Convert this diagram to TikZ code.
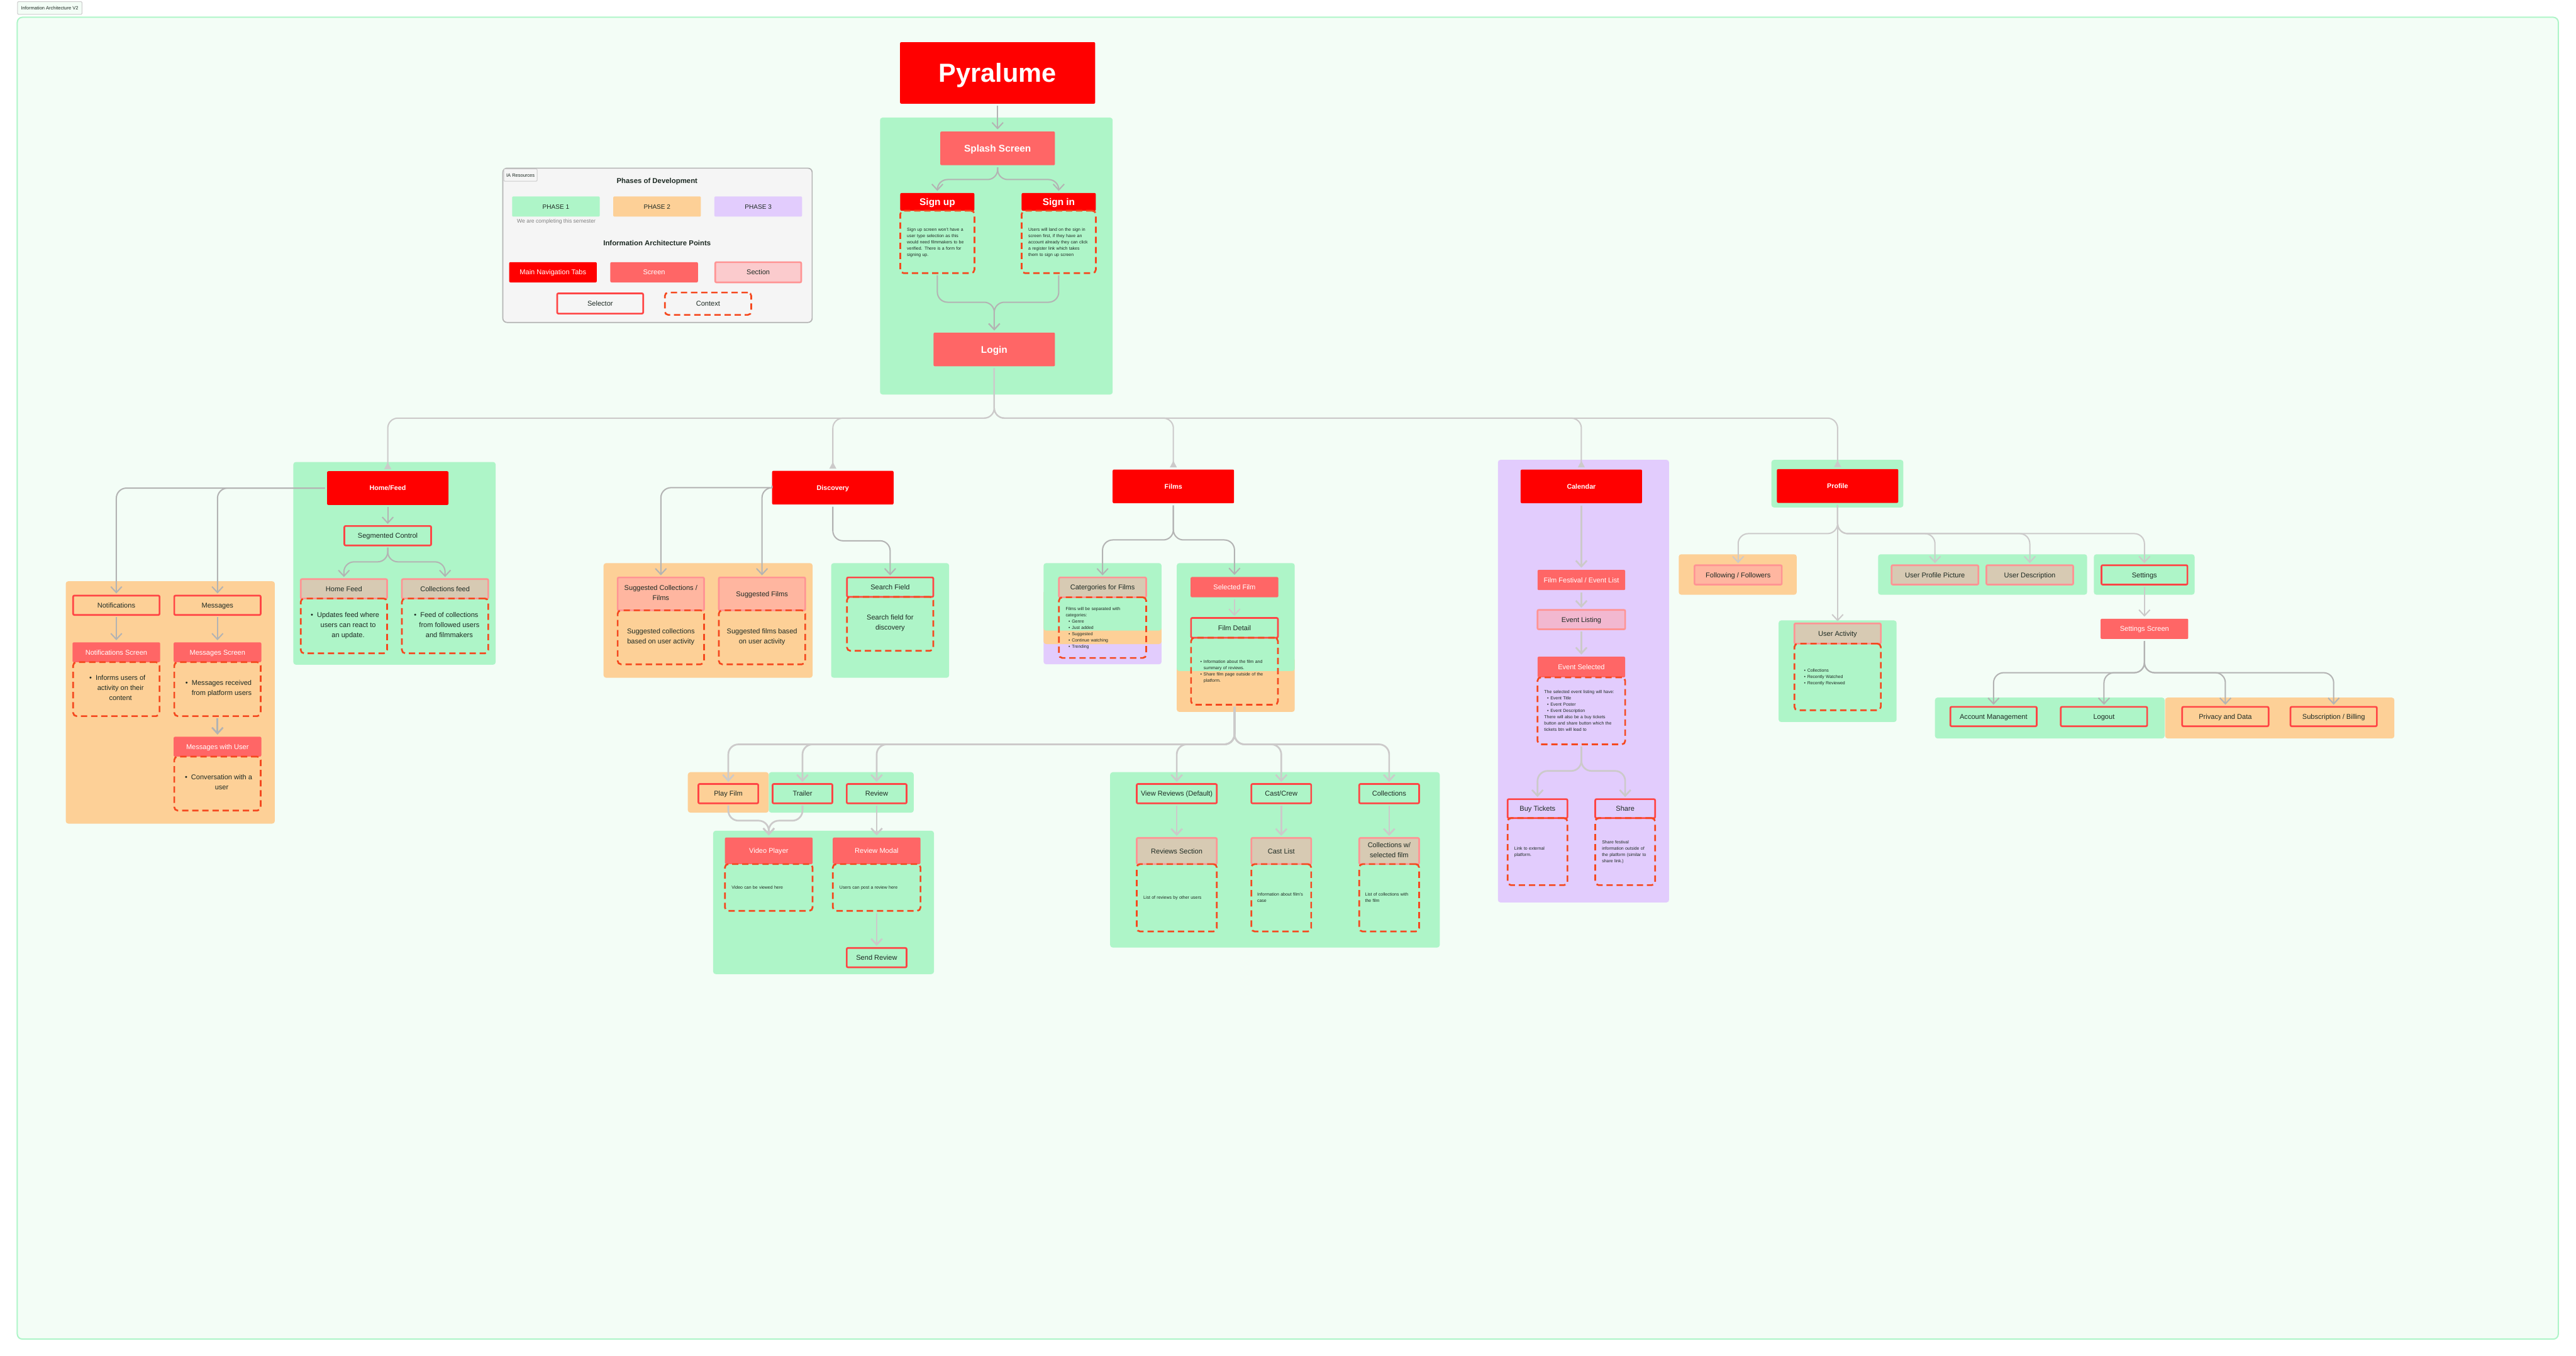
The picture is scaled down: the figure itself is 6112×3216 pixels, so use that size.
\documentclass[tikz,border=0pt]{standalone}
\usepackage{fontspec}
\setmainfont{Liberation Sans}
\usetikzlibrary{positioning, arrows.meta}

\definecolor{FrameFill}{HTML}{F3FDF6}
\definecolor{PhaseGreen}{HTML}{AEF5C8}
\definecolor{PhaseOrange}{HTML}{FDD097}
\definecolor{PhasePurple}{HTML}{E2CCFD}
\definecolor{TabRed}{HTML}{FF0000}
\definecolor{ScreenRed}{HTML}{FF6666}
\definecolor{SectionLine}{HTML}{FF9494}
\definecolor{SectionPink}{HTML}{FBCBCD}
\definecolor{SectionTan}{HTML}{D7CAB3}
\definecolor{SectionPeach}{HTML}{FFB6A0}
\definecolor{SectionRose}{HTML}{F2B8D0}
\definecolor{SelectorLine}{HTML}{FF4545}
\definecolor{ContextLine}{HTML}{F5481E}
\definecolor{ConnDark}{HTML}{B3B3B3}
\definecolor{ConnLight}{HTML}{CCCACA}
\definecolor{InkDark}{HTML}{1E2B24}

\newcommand{\BigDot}{\hspace*{20pt}\llap{\textbullet\hspace{9pt}}}
\newcommand{\BigGap}{\hspace*{20pt}}
\newcommand{\SmallDot}{\hspace*{7pt}\textbullet\hspace{4pt}}
\newcommand{\SmallGap}{\hspace*{15pt}}
\newcommand{\CapStrut}{\rule[\dimexpr .36em-.5\baselineskip\relax]{0pt}{\baselineskip}}

\tikzset{
	Dim/.style 2 args={minimum width=#1pt, minimum height=#2pt},
	Box/.style={rectangle, inner sep=0pt, outer sep=0pt, align=center, text=InkDark, font=\fontsize{16.5}{24}\selectfont, execute at begin node=\CapStrut, execute at end node=\CapStrut},
	Tab/.style={Box, fill=TabRed, rounded corners=3pt, text=white, font=\fontsize{16}{24}\bfseries\selectfont},
	TabLarge/.style={Tab, font=\fontsize{23}{28}\bfseries\selectfont},
	Screen/.style={Box, fill=ScreenRed, rounded corners=3pt, text=white},
	ScreenLarge/.style={Screen, font=\fontsize{23}{28}\bfseries\selectfont},
	Section/.style={Box, draw=SectionLine, line width=4pt, rounded corners=3pt, fill=SectionPink},
	Selector/.style={Box, draw=SelectorLine, line width=4pt, rounded corners=3pt},
	Context/.style={Box, draw=ContextLine, line width=4pt, rounded corners=8pt, dash pattern=on 15pt off 9pt},
	SmallNote/.style={Context, align=left, font=\fontsize{10.4}{15}\selectfont},
	Phase/.style={Box, rounded corners=3pt, font=\fontsize{15}{20}\selectfont},
	Heading/.style={Box, font=\fontsize{17}{20}\bfseries\selectfont},
	Label/.style={Box, fill=#1, draw=black!20, line width=1.5pt, rounded corners=2pt, font=\fontsize{11.2}{14}\selectfont},
	Panel/.style={fill=#1, rounded corners=6pt},
	Conn/.style={draw=ConnDark, line width=3pt, rounded corners=24pt, shorten <=5pt, shorten >=5pt, -{Straight Barb[length=14pt, width=26pt]}},
	Light/.style={Conn, draw=ConnLight},
	Heavy/.style={Light, line width=4pt},
	ToTab/.style={Light, -{Triangle[reversed, length=16pt, width=16pt]}},
}

\begin{document}
\begin{tikzpicture}	[x=1pt, y=-1pt]

	\fill[white] (0,0) rectangle (6112,3216);
	\useasboundingbox (0,0) rectangle (6112,3216);
	\draw[fill=FrameFill, draw=PhaseGreen, line width=3pt, rounded corners=12pt] (41,41) rectangle (6070,3177);
	\node[Label=FrameFill, Dim={153}{30}] (DiagramTitle) at (118,19) {Information Architecture V2};


	\draw[fill=black!4, draw=ConnDark, line width=2.5pt, rounded corners=10pt] (1193,399) rectangle (1927,765);
	\node[Label=black!4, Dim={79}{29}] (ResourcesTitle) at (1235,415.5) {IA Resources};
	\node[Heading] (PhaseTitle) at (1559,429) {Phases of Development};
	\node[Phase, fill=PhaseGreen, Dim={208}{48}] (PhaseOne) at (1319,490) {PHASE 1};
	\node[Phase, fill=PhaseOrange, Dim={208}{48}] (PhaseTwo) at (1559,490) {PHASE 2};
	\node[Phase, fill=PhasePurple, Dim={208}{48}] (PhaseThree) at (1799,490) {PHASE 3};
	\node[Box, text=black!50, font=\fontsize{12.8}{16}\selectfont] (PhaseNote) at (1320,525) {We are completing this semester};
	\node[Heading] (PointsTitle) at (1559,577) {Information Architecture Points};
	\node[Tab, font=\fontsize{16.5}{24}\selectfont, Dim={208}{48}] (LegendTab) at (1312,646) {Main Navigation Tabs};
	\node[Screen, Dim={208}{48}] (LegendScreen) at (1552,646) {Screen};
	\node[Section, Dim={204}{48}] (LegendSection) at (1799,646) {Section};
	\node[Selector, Dim={204}{48}] (LegendSelector) at (1424,720) {Selector};
	\node[Context, Dim={205}{53}] (LegendContext) at (1680,720.5) {Context};


	\fill[Panel=PhaseGreen] (2088,279) rectangle (2640,936);
	\fill[Panel=PhaseOrange] (156,1379) rectangle (652,1954);
	\fill[Panel=PhaseGreen] (696,1096) rectangle (1176,1577);
	\fill[Panel=PhaseOrange] (1432,1336) rectangle (1928,1608);
	\fill[Panel=PhaseGreen] (1972,1336) rectangle (2252,1608);
	\fill[Panel=PhasePurple] (2476,1400) rectangle (2756,1576);
	\fill[Panel=PhaseOrange] (2476,1400) rectangle (2756,1528);
	\fill[Panel=PhaseGreen] (2476,1336) rectangle (2756,1496);
	\fill[Panel=PhaseOrange] (2792,1560) rectangle (3072,1689);
	\fill[Panel=PhaseGreen] (2792,1336) rectangle (3072,1592);
	\fill[Panel=PhaseOrange] (1632,1832) rectangle (1824,1928);
	\fill[Panel=PhaseGreen] (1824,1832) rectangle (2168,1928);
	\fill[Panel=PhaseGreen] (1692,1971) rectangle (2216,2311);
	\fill[Panel=PhaseGreen] (2634,1832) rectangle (3416,2248);
	\fill[Panel=PhasePurple] (3554,1091) rectangle (3960,2141);
	\fill[Panel=PhaseGreen] (4203,1091) rectangle (4516,1204);
	\fill[Panel=PhaseOrange] (3983,1315) rectangle (4263,1411);
	\fill[Panel=PhaseGreen] (4456,1315) rectangle (4952,1411);
	\fill[Panel=PhaseGreen] (4968,1315) rectangle (5207,1411);
	\fill[Panel=PhaseGreen] (4220,1472) rectangle (4500,1713);
	\fill[Panel=PhaseGreen] (4591,1655) rectangle (5136,1752);
	\fill[Panel=PhaseOrange] (5137,1655) rectangle (5681,1752);


	\node[Tab, font=\fontsize{62}{70}\bfseries\selectfont, Dim={463}{146}] (Pyralume) at (2367,173) {Pyralume};
	\node[ScreenLarge, Dim={272}{80}] (Splash) at (2367,352) {Splash Screen};
	\node[TabLarge, Dim={176}{42}] (SignUp) at (2224,479) {Sign up};
	\node[SmallNote, Dim={176}{148}, text width=144pt] (SignUpNote) [below=0pt of SignUp] {Sign up screen won't have a\\user type selection as this\\would need filmmakers to be\\verified. There is a form for\\signing up.};
	\node[TabLarge, Dim={176}{42}] (SignIn) at (2512,479) {Sign in};
	\node[SmallNote, Dim={176}{148}, text width=144pt] (SignInNote) [below=0pt of SignIn] {Users will land on the sign in\\screen first, if they have an\\account already they can click\\a register link which takes\\them to sign up screen};
	\node[ScreenLarge, Dim={288}{80}] (Login) at (2359,829) {Login};


	\node[Tab, Dim={288}{80}] (Home) at (920,1158) {Home/Feed};
	\node[Selector, Dim={206}{46}] (Segmented) at (920,1271) {Segmented Control};
	\node[Section, fill=SectionTan, Dim={205}{46}] (HomeFeed) at (816,1397) {Home Feed};
	\node[Context, Dim={205}{130}] (HomeFeedNote) [below=0pt of HomeFeed] {\BigDot Updates feed where\\\BigGap users can react to\\\BigGap an update.};
	\node[Section, fill=SectionTan, Dim={205}{46}] (CollectionsFeed) at (1056,1397) {Collections feed};
	\node[Context, Dim={205}{130}] (CollectionsFeedNote) [below=0pt of CollectionsFeed] {\BigDot Feed of collections\\\BigGap from followed users\\\BigGap and filmmakers};

	\node[Selector, Dim={205}{46}] (Notifications) at (276,1436) {Notifications};
	\node[Screen, Dim={208}{47}] (NotificationsScreen) at (276,1547.5) {Notifications Screen};
	\node[Context, Dim={205}{128}] (NotificationsNote) [below=0pt of NotificationsScreen] {\BigDot Informs users of\\\BigGap activity on their\\\BigGap content};
	\node[Selector, Dim={205}{46}] (Messages) at (516,1436) {Messages};
	\node[Screen, Dim={208}{47}] (MessagesScreen) at (516,1547.5) {Messages Screen};
	\node[Context, Dim={205}{128}] (MessagesNote) [below=0pt of MessagesScreen] {\BigDot Messages received\\\BigGap from platform users};
	\node[Screen, Dim={208}{47}] (MessagesUser) at (516,1771.5) {Messages with User};
	\node[Context, Dim={205}{128}] (MessagesUserNote) [below=0pt of MessagesUser] {\BigDot Conversation with a\\\BigGap user};


	\node[Tab, Dim={288}{80}] (Discovery) at (1976,1157) {Discovery};
	\node[Section, fill=SectionPeach, Dim={205}{78}] (SuggestedSets) at (1568,1409) {Suggested Collections /\\Films};
	\node[Context, Dim={205}{128}] (SuggestedSetsNote) [below=0pt of SuggestedSets] {Suggested collections\\based on user activity};
	\node[Section, fill=SectionPeach, Dim={205}{78}] (SuggestedFilms) at (1808,1409) {Suggested Films};
	\node[Context, Dim={205}{128}] (SuggestedFilmsNote) [below=0pt of SuggestedFilms] {Suggested films based\\on user activity};
	\node[Selector, Dim={205}{46}] (SearchField) at (2112,1393) {Search Field};
	\node[Context, Dim={205}{128}] (SearchFieldNote) [below=0pt of SearchField] {Search field for\\discovery};


	\node[Tab, Dim={288}{80}] (Films) at (2784,1154) {Films};
	\node[Section, fill=SectionTan, Dim={207}{47}] (Categories) at (2616,1393.5) {Catergories for Films};
	\node[SmallNote, Dim={207}{144}, text width=175pt] (CategoriesNote) [below=0pt of Categories] {Films will be separated with\\categories:\\\SmallDot Genre\\\SmallDot Just added\\\SmallDot Suggested\\\SmallDot Continue watching\\\SmallDot Trending};
	\node[Screen, Dim={208}{48}] (SelectedFilm) at (2929,1393) {Selected Film};
	\node[Selector, Dim={206}{47}] (FilmDetail) at (2929,1489.5) {Film Detail};
	\node[SmallNote, Dim={206}{159}, text width=176pt] (FilmDetailNote) [below=0pt of FilmDetail] {\SmallDot Information about the film and\\\SmallGap summary of reviews.\\\SmallDot Share film page outside of the\\\SmallGap platform.};

	\node[Selector, Dim={142}{46}] (PlayFilm) at (1728,1883) {Play Film};
	\node[Selector, Dim={142}{46}] (Trailer) at (1904,1883) {Trailer};
	\node[Selector, Dim={142}{46}] (Review) at (2080,1883) {Review};
	\node[Screen, Dim={208}{63}] (VideoPlayer) at (1824,2018.5) {Video Player};
	\node[SmallNote, Dim={208}{111}, text width=176pt] (VideoPlayerNote) [below=0pt of VideoPlayer] {Video can be viewed here};
	\node[Screen, Dim={208}{63}] (ReviewModal) at (2080,2018.5) {Review Modal};
	\node[SmallNote, Dim={208}{111}, text width=176pt] (ReviewModalNote) [below=0pt of ReviewModal] {Users can post a review here};
	\node[Selector, Dim={142}{46}] (SendReview) at (2080,2272) {Send Review};

	\node[Selector, Dim={190}{46}] (ViewReviews) at (2792,1883) {View Reviews (Default)};
	\node[Selector, Dim={142}{46}] (CastCrew) at (3040,1883) {Cast/Crew};
	\node[Selector, Dim={142}{46}] (CollectionsTab) at (3296,1883) {Collections};
	\node[Section, fill=SectionTan, Dim={190}{62}] (ReviewsSection) at (2792,2019) {Reviews Section};
	\node[SmallNote, Dim={190}{160}, text width=158pt] (ReviewsNote) [below=0pt of ReviewsSection] {List of reviews by other users};
	\node[Section, fill=SectionTan, Dim={142}{62}] (CastList) at (3040,2019) {Cast List};
	\node[SmallNote, Dim={142}{160}, text width=114pt] (CastNote) [below=0pt of CastList] {Information about film's\\case};
	\node[Section, fill=SectionTan, Dim={142}{62}] (CollectionsFilm) at (3296,2019) {Collections w/\\selected film};
	\node[SmallNote, Dim={142}{160}, text width=114pt] (CollectionsNote) [below=0pt of CollectionsFilm] {List of collections with\\the film};


	\node[Tab, Dim={288}{80}] (Calendar) at (3752,1154) {Calendar};
	\node[Screen, Dim={208}{48}] (FestivalList) at (3752,1376) {Film Festival / Event List};
	\node[Section, fill=SectionRose, Dim={208}{46}] (EventListing) at (3752,1470) {Event Listing};
	\node[Screen, Dim={208}{49}] (EventSelected) at (3752,1582.5) {Event Selected};
	\node[SmallNote, Dim={208}{159}, text width=176pt] (EventNote) [below=0pt of EventSelected] {The selected event listing will have:\\\SmallDot Event Title\\\SmallDot Event Poster\\\SmallDot Event Description\\There will also be a buy tickets\\button and share button which the\\tickets btn will lead to};
	\node[Selector, Dim={142}{45}] (BuyTickets) at (3648,1918.5) {Buy Tickets};
	\node[SmallNote, Dim={142}{159}, text width=110pt] (BuyTicketsNote) [below=0pt of BuyTickets] {Link to external\\platform.};
	\node[Selector, Dim={142}{45}] (Share) at (3856,1918.5) {Share};
	\node[SmallNote, Dim={142}{159}, text width=110pt] (ShareNote) [below=0pt of Share] {Share festival\\information outside of\\the platform (similar to\\share link.)};


	\node[Tab, Dim={288}{80}] (Profile) at (4360,1153) {Profile};
	\node[Section, fill=SectionPeach, Dim={207}{46}] (Following) at (4124,1364) {Following / Followers};
	\node[Section, fill=SectionTan, Dim={206}{46}] (UserPicture) at (4591,1364) {User Profile Picture};
	\node[Section, fill=SectionTan, Dim={206}{46}] (UserDescription) at (4816,1364) {User Description};
	\node[Selector, Dim={204}{46}] (Settings) at (5088,1364) {Settings};
	\node[Section, fill=SectionTan, Dim={205}{48}] (UserActivity) at (4360,1503) {User Activity};
	\node[SmallNote, Dim={205}{158}, text width=173pt] (UserActivityNote) [below=0pt of UserActivity] {\SmallDot Collections\\\SmallDot Recently Watched\\\SmallDot Recently Reviewed};
	\node[Screen, Dim={208}{48}] (SettingsScreen) at (5088,1492) {Settings Screen};
	\node[Selector, Dim={205}{46}] (Account) at (4730,1700) {Account Management};
	\node[Selector, Dim={205}{46}] (Logout) at (4992,1700) {Logout};
	\node[Selector, Dim={205}{46}] (Privacy) at (5280,1700) {Privacy and Data};
	\node[Selector, Dim={205}{46}] (Subscription) at (5537,1700) {Subscription / Billing};


	\coordinate (SplashFork) at (0,426);
	\coordinate (LoginMerge) at (0,717);
	\coordinate (TabBus) at (0,992);
	\coordinate (SegmentFork) at (0,1333);
	\coordinate (DiscoveryFork) at (0,1283);
	\coordinate (FilmsFork) at (0,1281);
	\coordinate (DetailBus) at (0,1766);
	\coordinate (PlayerMerge) at (0,1947);
	\coordinate (EventFork) at (0,1829);
	\coordinate (ProfileFork) at (0,1266);
	\coordinate (SettingsFork) at (0,1596);

	\draw[Conn] (Pyralume) -- (Splash);
	\draw[Conn] (Splash.south) |- (SignUp.north |- SplashFork) -- (SignUp.north);
	\draw[Conn] (Splash.south) |- (SignIn.north |- SplashFork) -- (SignIn.north);
	\draw[Conn] (SignUpNote.south) |- (Login.north |- LoginMerge) -- (Login.north);
	\draw[Conn] (SignInNote.south) |- (Login.north |- LoginMerge) -- (Login.north);

	\draw[ToTab] (Login.south) |- (Home.north |- TabBus) -- (Home.north);
	\draw[ToTab] (Login.south) |- (Discovery.north |- TabBus) -- (Discovery.north);
	\draw[ToTab] (Login.south) |- (Films.north |- TabBus) -- (Films.north);
	\draw[ToTab] (Login.south) |- (Calendar.north |- TabBus) -- (Calendar.north);
	\draw[ToTab] (Login.south) |- (Profile.north |- TabBus) -- (Profile.north);

	\draw[Conn] (Home.west) -| (Notifications.north);
	\draw[Conn] (Home.west) -| (Messages.north);
	\draw[Conn] (Home) -- (Segmented);
	\draw[Conn] (Segmented.south) |- (HomeFeed.north |- SegmentFork) -- (HomeFeed.north);
	\draw[Conn] (Segmented.south) |- (CollectionsFeed.north |- SegmentFork) -- (CollectionsFeed.north);
	\draw[Conn] (Notifications) -- (NotificationsScreen);
	\draw[Conn] (Messages) -- (MessagesScreen);
	\draw[Conn, line width=4pt] (MessagesNote) -- (MessagesUser);

	\draw[Conn] (Discovery.west) -| (SuggestedSets.north);
	\draw[Conn] (Discovery.west) -| (SuggestedFilms.north);
	\draw[Conn] (Discovery.south) |- (SearchField.north |- DiscoveryFork) -- (SearchField.north);

	\draw[Conn] (Films.south) |- (Categories.north |- FilmsFork) -- (Categories.north);
	\draw[Conn] (Films.south) |- (SelectedFilm.north |- FilmsFork) -- (SelectedFilm.north);
	\draw[Light] (SelectedFilm) -- (FilmDetail);

	\draw[Heavy] (FilmDetailNote.south) |- (PlayFilm.north |- DetailBus) -- (PlayFilm.north);
	\draw[Heavy] (FilmDetailNote.south) |- (Trailer.north |- DetailBus) -- (Trailer.north);
	\draw[Heavy] (FilmDetailNote.south) |- (Review.north |- DetailBus) -- (Review.north);
	\draw[Heavy] (FilmDetailNote.south) |- (ViewReviews.north |- DetailBus) -- (ViewReviews.north);
	\draw[Heavy] (FilmDetailNote.south) |- (CastCrew.north |- DetailBus) -- (CastCrew.north);
	\draw[Heavy] (FilmDetailNote.south) |- (CollectionsTab.north |- DetailBus) -- (CollectionsTab.north);
	\draw[Heavy] (PlayFilm.south) |- (VideoPlayer.north |- PlayerMerge) -- (VideoPlayer.north);
	\draw[Heavy] (Trailer.south) |- (VideoPlayer.north |- PlayerMerge) -- (VideoPlayer.north);
	\draw[Heavy] (Review) -- (ReviewModal);
	\draw[Heavy] (ReviewModalNote) -- (SendReview);
	\draw[Heavy] (ViewReviews) -- (ReviewsSection);
	\draw[Heavy] (CastCrew) -- (CastList);
	\draw[Heavy] (CollectionsTab) -- (CollectionsFilm);

	\draw[Heavy] (Calendar) -- (FestivalList);
	\draw[Heavy] (FestivalList) -- (EventListing);
	\draw[Heavy] (EventListing) -- (EventSelected);
	\draw[Heavy] (EventNote.south) |- (BuyTickets.north |- EventFork) -- (BuyTickets.north);
	\draw[Heavy] (EventNote.south) |- (Share.north |- EventFork) -- (Share.north);

	\draw[Light] (Profile.south) |- (Following.north |- ProfileFork) -- (Following.north);
	\draw[Light] (Profile.south) |- (UserPicture.north |- ProfileFork) -- (UserPicture.north);
	\draw[Light] (Profile.south) |- (UserDescription.north |- ProfileFork) -- (UserDescription.north);
	\draw[Light] (Profile.south) |- (Settings.north |- ProfileFork) -- (Settings.north);
	\draw[Light] (Profile) -- (UserActivity);
	\draw[Light] (Settings) -- (SettingsScreen);

	\draw[Conn] (SettingsScreen.south) |- (Account.north |- SettingsFork) -- (Account.north);
	\draw[Conn] (SettingsScreen.south) |- (Logout.north |- SettingsFork) -- (Logout.north);
	\draw[Conn] (SettingsScreen.south) |- (Privacy.north |- SettingsFork) -- (Privacy.north);
	\draw[Conn] (SettingsScreen.south) |- (Subscription.north |- SettingsFork) -- (Subscription.north);

\end{tikzpicture}
\end{document}
